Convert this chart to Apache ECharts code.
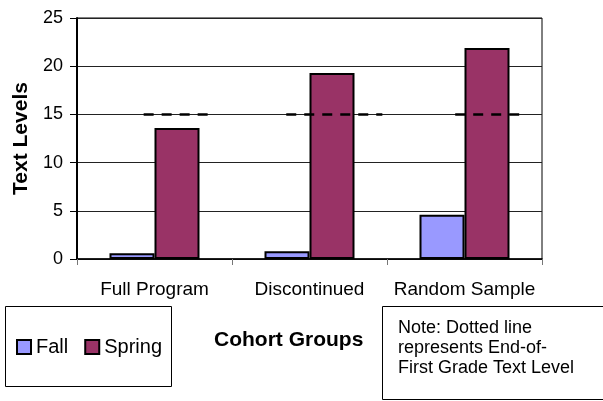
<!DOCTYPE html>
<html>
<head>
<meta charset="utf-8">
<script src="https://cdn.jsdelivr.net/npm/echarts@6/dist/echarts.min.js"></script>
<style>
	html, body { margin: 0; padding: 0; background: #fff; }
	#chart { width: 603px; height: 401px; }
</style>
</head>
<body>
<div id="chart"></div>
<script>
// Data
var categories = ['Full Program', 'Discontinued', 'Random Sample'];
var fallValues = [0.6, 0.8, 4.6];
var springValues = [13.6, 19.3, 21.9];
var endOfGradeLevel = 15;
// start/end of each dashed segment, in category units (0..3)
var refSegments = [[0.43, 0.86], [1.35, 1.97], [2.44, 2.87]];

var font = 'Arial, "Liberation Sans", sans-serif';
var chart = echarts.init(document.getElementById('chart'), null, { renderer: 'canvas' });

var series = [{
		name: 'Fall',
		type: 'bar',
		data: fallValues,
		barWidth: 45,
		barGap: '0%',
		itemStyle: { color: '#9999FF', borderColor: '#000', borderWidth: 2 }
	},
	{
		name: 'Spring',
		type: 'bar',
		data: springValues,
		barWidth: 45,
		itemStyle: { color: '#993366', borderColor: '#000', borderWidth: 2 }
	}
];
for (let i = 0; i < refSegments.length; i++) {	// dashed reference line, one piece per group
	series.push({
		name: 'ref' + i,
		type: 'line',
		xAxisIndex: 1,
		data: [[refSegments[i][0], endOfGradeLevel], [refSegments[i][1], endOfGradeLevel]],
		symbol: 'none',
		silent: true,
		lineStyle: { color: '#000', width: 2.5, type: [10, 8] },
		z: 5
	});
}

chart.setOption({
	animation: false,
	textStyle: { fontFamily: font },
	grid: {
		left: 77, right: 61, top: 18, bottom: 142,
		show: true, borderColor: '#000', borderWidth: 1
	},
	legend: {
		data: ['Fall', 'Spring'],
		left: 11, top: 332,
		itemWidth: 14, itemHeight: 14, itemGap: 16,
		icon: 'rect',
		textStyle: { fontFamily: font, fontSize: 20, color: '#000' }
	},
	xAxis: [{
		type: 'category',
		data: categories,
		axisLine: { lineStyle: { color: '#000', width: 1.5 } },
		axisTick: { show: true, length: 6, lineStyle: { color: '#777' } },
		axisLabel: { interval: 0, hideOverlap: false, fontSize: 19, color: '#000', margin: 21, fontFamily: font }
	}, {
		type: 'value',
		min: 0, max: 3,
		show: false
	}],
	yAxis: {
		type: 'value',
		min: 0, max: 25, interval: 5,
		name: 'Text Levels',
		nameLocation: 'middle',
		nameGap: 45,
		nameTextStyle: { fontSize: 21, fontWeight: 'bold', color: '#000', fontFamily: font },
		axisLine: { show: true, lineStyle: { color: '#000', width: 2 } },
		axisTick: { show: true, length: 7, lineStyle: { color: '#000' } },
		axisLabel: { fontSize: 18, color: '#000', margin: 14, fontFamily: font },
		splitLine: { lineStyle: { color: '#222', width: 1 } }
	},
	graphic: [{
			type: 'rect',
			shape: { x: 5.5, y: 306.5, width: 166, height: 80 },
			style: { fill: 'none', stroke: '#000', lineWidth: 1 }
		},
		{
			type: 'text',
			x: 214, y: 330,
			style: { text: 'Cohort Groups', font: 'bold 21px ' + font, fill: '#000' }
		},
		{
			type: 'rect',
			shape: { x: 382.5, y: 306.5, width: 240, height: 93 },
			style: { fill: 'none', stroke: '#000', lineWidth: 1 }
		},
		{
			type: 'text',
			x: 398, y: 318,
			style: {
				text: 'Note: Dotted line\nrepresents End-of-\nFirst Grade Text Level',
				font: '18px ' + font, lineHeight: 20, fill: '#000'
			}
		}
	],
	series: series
});
</script>
</body>
</html>
